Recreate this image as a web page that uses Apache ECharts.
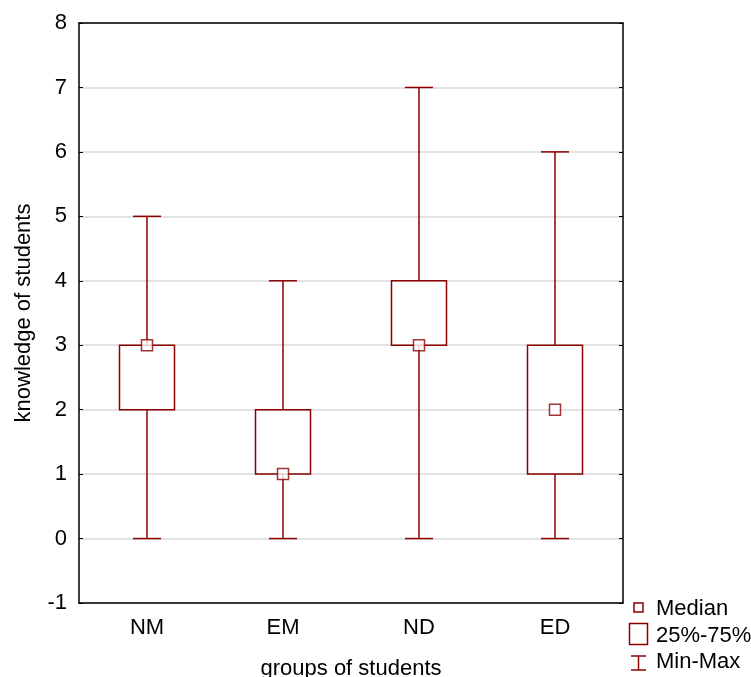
<!DOCTYPE html>
<html>
<head>
<meta charset="utf-8">
<script src="https://cdn.jsdelivr.net/npm/echarts@6/dist/echarts.min.js"></script>
<style>html,body{margin:0;padding:0;background:#fff;overflow:hidden}#c{width:751px;height:677px}</style>
</head>
<body>
<div id="c"></div>
<script>
var categories = ['NM', 'EM', 'ND', 'ED'];
var minValues = [0, 0, 0, 0];
var q1Values = [2, 1, 3, 1];
var medianValues = [3, 1, 3, 2];
var q3Values = [3, 2, 4, 3];
var maxValues = [5, 4, 7, 6];
var yTicks = [-1, 0, 1, 2, 3, 4, 5, 6, 7, 8];

var RED = '#8c0000';
var FONT = 'Liberation Sans, Arial, sans-serif';

var boxData = categories.map(function (c, i) {
  return [i, minValues[i], q1Values[i], q3Values[i], maxValues[i]];
});
var medData = categories.map(function (c, i) { return [i, medianValues[i]]; });

var chart = echarts.init(document.getElementById('c'), null, {renderer: 'canvas', width: 751, height: 677});
chart.setOption({
  animation: false,
  backgroundColor: '#fff',
  grid: {left: 79, top: 23, width: 544, height: 580, show: false, containLabel: false, outerBoundsMode: 'none'},
  xAxis: [{
    type: 'category', data: categories, position: 'bottom',
    name: 'groups of students', nameLocation: 'middle', nameGap: 55,
    nameTextStyle: {fontFamily: FONT, fontSize: 22, color: '#000'},
    axisLine: {onZero: false, lineStyle: {color: '#000', width: 1.5}},
    axisTick: {inside: true, alignWithLabel: true, length: 5, lineStyle: {color: '#000'}},
    axisLabel: {fontFamily: FONT, fontSize: 22, color: '#000', margin: 14},
    splitLine: {show: false}
  }, {
    type: 'category', data: categories, position: 'top',
    axisLine: {onZero: false, lineStyle: {color: '#000', width: 1.5}},
    axisTick: {inside: true, alignWithLabel: true, length: 5, lineStyle: {color: '#000'}},
    axisLabel: {show: false}
  }],
  yAxis: [{
    type: 'value', min: -1, max: 8, interval: 1, position: 'left',
    name: 'knowledge of students', nameLocation: 'middle', nameGap: 44,
    nameTextStyle: {fontFamily: FONT, fontSize: 22, color: '#000'},
    axisLine: {show: true, onZero: false, lineStyle: {color: '#000', width: 1.5}},
    axisTick: {show: true, inside: true, length: 4, lineStyle: {color: '#000'}},
    axisLabel: {fontFamily: FONT, fontSize: 22, color: '#000', margin: 12},
    splitLine: {show: true, lineStyle: {color: '#d8d8d8', width: 1.5}}
  }, {
    type: 'value', min: -1, max: 8, interval: 1, position: 'right',
    axisLine: {show: true, onZero: false, lineStyle: {color: '#000', width: 1.5}},
    axisTick: {show: true, inside: true, length: 4, lineStyle: {color: '#000'}},
    axisLabel: {show: false},
    splitLine: {show: false}
  }],
  series: [{
    type: 'custom',
    xAxisIndex: 0, yAxisIndex: 0,
    data: boxData,
    z: 3,
    renderItem: function (params, api) {
      var x = api.value(0);
      var pMin = api.coord([x, api.value(1)]);
      var pQ1 = api.coord([x, api.value(2)]);
      var pQ3 = api.coord([x, api.value(3)]);
      var pMax = api.coord([x, api.value(4)]);
      var cx = pMin[0];
      var bw = 27.5, cw = 14;
      var st = {stroke: RED, lineWidth: 1.5, fill: null};
      return {
        type: 'group',
        children: [
          {type: 'line', shape: {x1: cx, y1: pMin[1], x2: cx, y2: pQ1[1]}, style: st},
          {type: 'line', shape: {x1: cx, y1: pQ3[1], x2: cx, y2: pMax[1]}, style: st},
          {type: 'line', shape: {x1: cx - cw, y1: pMin[1], x2: cx + cw, y2: pMin[1]}, style: st},
          {type: 'line', shape: {x1: cx - cw, y1: pMax[1], x2: cx + cw, y2: pMax[1]}, style: st},
          {type: 'rect', shape: {x: cx - bw, y: pQ3[1], width: 2 * bw, height: pQ1[1] - pQ3[1]},
           style: {stroke: RED, lineWidth: 1.5, fill: 'rgba(255,255,255,0)'}}
        ]
      };
    }
  }, {
    type: 'scatter',
    xAxisIndex: 0, yAxisIndex: 0,
    data: medData,
    symbol: 'rect', symbolSize: 11, z: 4,
    itemStyle: {color: '#fff', borderColor: RED, borderWidth: 1.5}
  }],
  graphic: [
    {type: 'rect', shape: {x: 634, y: 603, width: 9, height: 9}, style: {fill: '#fff', stroke: RED, lineWidth: 1.5}},
    {type: 'text', x: 656, y: 609, style: {text: 'Median', font: '22px ' + FONT, fill: '#000', verticalAlign: 'middle'}},
    {type: 'rect', shape: {x: 629.5, y: 623.5, width: 18, height: 21}, style: {fill: '#fff', stroke: RED, lineWidth: 1.5}},
    {type: 'text', x: 656, y: 636, style: {text: '25%-75%', font: '22px ' + FONT, fill: '#000', verticalAlign: 'middle'}},
    {type: 'line', shape: {x1: 631, y1: 656, x2: 646, y2: 656}, style: {stroke: RED, lineWidth: 1.5}},
    {type: 'line', shape: {x1: 638.5, y1: 656, x2: 638.5, y2: 670}, style: {stroke: RED, lineWidth: 1.5}},
    {type: 'line', shape: {x1: 631, y1: 670, x2: 646, y2: 670}, style: {stroke: RED, lineWidth: 1.5}},
    {type: 'text', x: 656, y: 662, style: {text: 'Min-Max', font: '22px ' + FONT, fill: '#000', verticalAlign: 'middle'}}
  ]
});
</script>
</body>
</html>
